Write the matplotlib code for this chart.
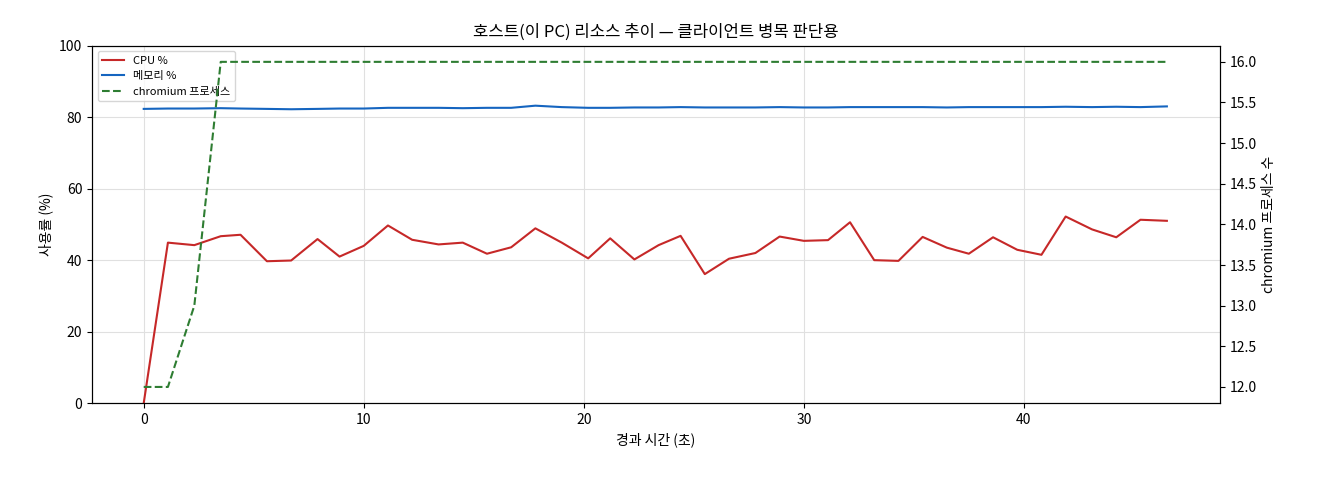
import matplotlib
matplotlib.use("Agg")
import matplotlib.pyplot as plt
import numpy as np

plt.rcParams['font.family'] = ['Noto Sans CJK KR', 'DejaVu Sans']

times = [0, 1.1, 2.3, 3.5, 4.4, 5.6, 6.7, 7.9, 8.9, 10.0, 11.1, 12.2, 13.4, 14.5, 15.6,
         16.7, 17.8, 19.0, 20.2, 21.2, 22.3, 23.4, 24.4, 25.5, 26.6, 27.8, 28.9, 30.0,
         31.1, 32.1, 33.2, 34.3, 35.4, 36.5, 37.5, 38.6, 39.7, 40.8, 41.9, 43.1, 44.2,
         45.3, 46.5]
cpu = [0, 44.9, 44.2, 46.7, 47.1, 39.7, 39.9, 45.9, 41.0, 44.0, 49.7, 45.7, 44.4, 44.9,
       41.8, 43.6, 48.9, 44.9, 40.5, 46.1, 40.2, 44.2, 46.8, 36.1, 40.4, 42.0, 46.6, 45.4,
       45.6, 50.6, 40.0, 39.8, 46.5, 43.5, 41.8, 46.4, 42.9, 41.5, 52.2, 48.6, 46.4, 51.3, 51.0]
mem = [82.3, 82.4, 82.4, 82.5, 82.4, 82.3, 82.2, 82.3, 82.4, 82.4, 82.6, 82.6, 82.6, 82.5,
       82.6, 82.6, 83.2, 82.8, 82.6, 82.6, 82.7, 82.7, 82.8, 82.7, 82.7, 82.7, 82.8, 82.7,
       82.7, 82.8, 82.8, 82.8, 82.8, 82.7, 82.8, 82.8, 82.8, 82.8, 82.9, 82.8, 82.9, 82.8, 83.0]
procs = [12, 12, 13, 16] + [16] * 39

fig, ax = plt.subplots(figsize=(13.2, 4.8), dpi=100)
l1, = ax.plot(times, cpu, color='#c62828', lw=1.5, label='CPU %')
l2, = ax.plot(times, mem, color='#1565c0', lw=1.5, label='메모리 %')
ax.set_ylim(0, 100)
ax.set_xlim(-2.35, 48.9)
ax.set_xlabel('경과 시간 (초)')
ax.set_ylabel('사용률 (%)')
ax.grid(True, color='#e0e0e0', lw=0.8)
ax2 = ax.twinx()
l3, = ax2.plot(times, procs, color='#2e7d32', lw=1.5, ls='--', label='chromium 프로세스')
ax2.set_ylim(11.8, 16.2)
ax2.set_ylabel('chromium 프로세스 수')
ax.set_title('호스트(이 PC) 리소스 추이 — 클라이언트 병목 판단용')
ax.legend(handles=[l1, l2, l3], loc='upper left', fontsize=8)
fig.subplots_adjust(left=0.0697, right=0.924, top=0.905, bottom=0.16)
fig.savefig('out.png')
